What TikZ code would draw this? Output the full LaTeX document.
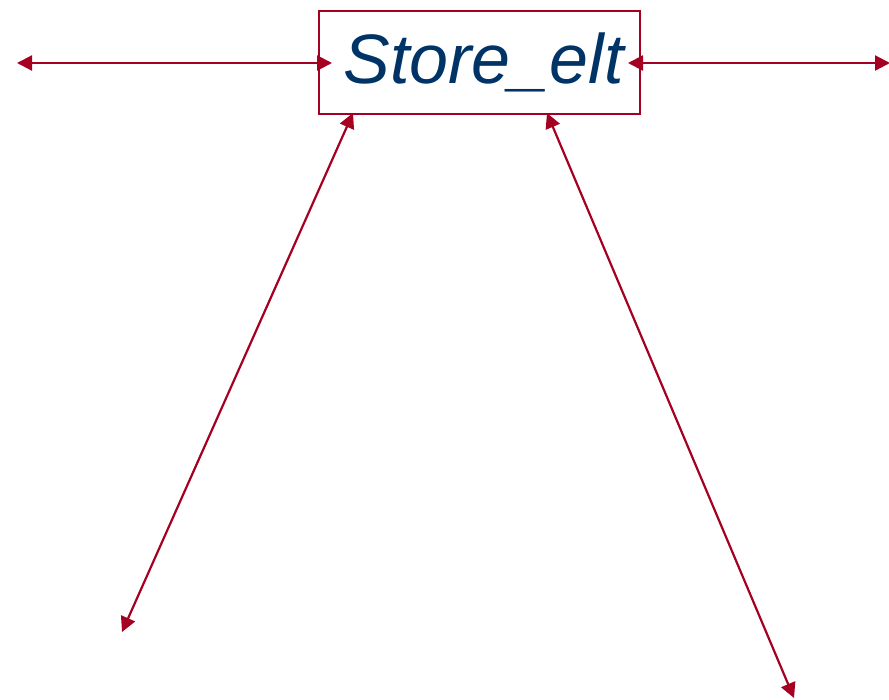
\documentclass[tikz,border=0pt]{standalone}
\usepackage{fontspec}
\setmainfont{Liberation Sans}
\usetikzlibrary{arrows.meta}
\definecolor{linkred}{RGB}{165,0,33}
\definecolor{textblue}{RGB}{0,51,102}
\begin{document}
\begin{tikzpicture}[x=1pt,y=-1pt,
  link/.style={draw=linkred,line width=2.2pt,
    {Triangle[length=15pt,width=15pt]}-{Triangle[length=15pt,width=15pt]}},
  opbox/.style={draw=linkred,line width=1.5pt,minimum width=321pt,minimum height=103pt,
    inner sep=0pt,font=\fontsize{70}{74}\selectfont\itshape,text=textblue}]
  \useasboundingbox (0,0) rectangle (889,699);
  \node[opbox] (store) at (479.5,62.5) {\raisebox{-4pt}{\hspace*{8pt}Store\_elt}};
  \coordinate (westend) at (17,63);
  \coordinate (eastend) at (890,63);
  \coordinate (swend) at (122,632);
  \coordinate (seend) at (794,698);
  \coordinate (stw) at (332,63);
  \coordinate (ste) at (628,63);
  \coordinate (sts) at (353,113);
  \coordinate (stse) at (547,113);
  \draw[link] (westend) -- (stw);
  \draw[link] (ste) -- (eastend);
  \draw[link] (sts) -- (swend);
  \draw[link] (stse) -- (seend);
\end{tikzpicture}
\end{document}
